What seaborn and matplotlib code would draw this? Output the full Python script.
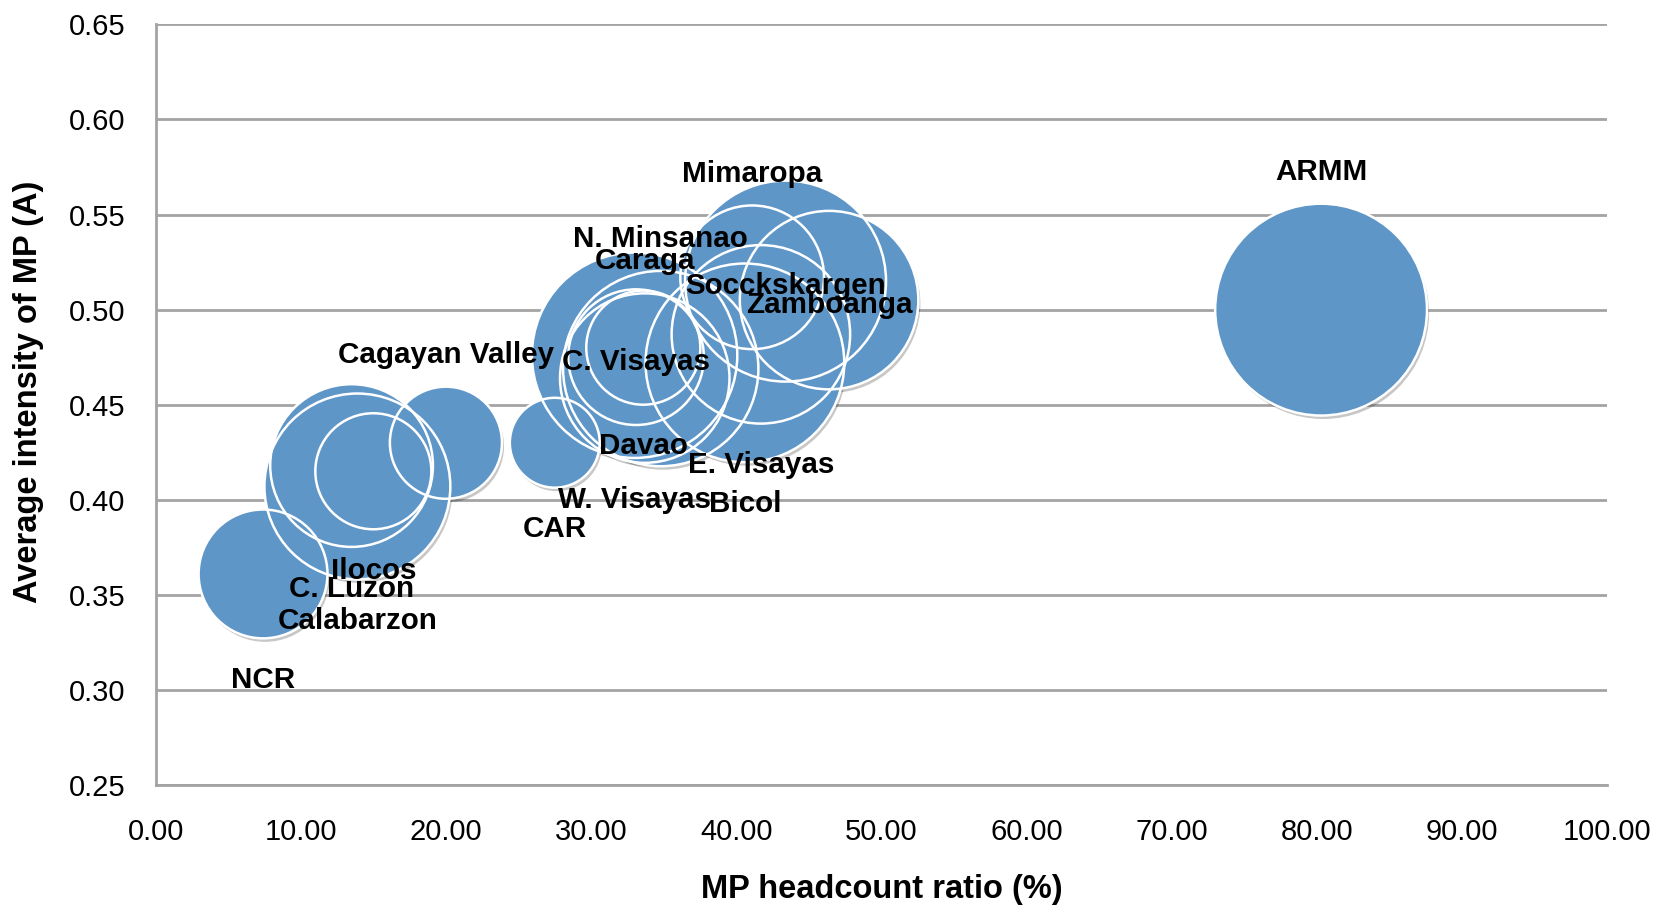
import matplotlib
matplotlib.use("Agg")
import matplotlib.pyplot as plt
import matplotlib.patheffects as pe
import numpy as np
import pandas as pd
import seaborn as sns

# ---- data ----
regions = ["NCR", "CAR", "Ilocos", "Cagayan Valley", "C. Luzon", "Calabarzon",
           "Mimaropa", "Bicol", "W. Visayas", "C. Visayas", "E. Visayas",
           "Zamboanga", "N. Minsanao", "Davao", "Socckskargen", "Caraga", "ARMM"]
headcount = [7.4, 27.5, 15.0, 20.0, 13.5, 13.9,
             41.1, 40.6, 33.0, 33.1, 41.7,
             46.4, 34.8, 33.6, 43.4, 33.7, 80.3]
intensity = [0.361, 0.430, 0.415, 0.430, 0.418, 0.407,
             0.517, 0.472, 0.476, 0.475, 0.487,
             0.505, 0.469, 0.480, 0.515, 0.464, 0.500]
bubble = [37, 18, 30, 28, 59, 77,
          46, 88, 94, 41, 71,
          71, 85, 29, 90, 64, 100]

df = pd.DataFrame({"region": regions, "H": headcount, "A": intensity, "size": bubble})

# label placement (style only)
label_pos = {"NCR": "below", "CAR": "below", "Ilocos": "below", "Cagayan Valley": "above",
             "C. Luzon": "below", "Calabarzon": "below", "Mimaropa": "above",
             "Bicol": "below", "W. Visayas": "below", "C. Visayas": "center",
             "E. Visayas": "below", "Zamboanga": "center", "N. Minsanao": "above",
             "Davao": "below", "Socckskargen": "center", "Caraga": "above", "ARMM": "above"}

sns.set_style("white")
plt.rcParams['font.family'] = ['Liberation Sans', 'DejaVu Sans']

fig = plt.figure(figsize=(16.61, 9.07), dpi=100)
ax = fig.add_axes([0.0937, 0.1345, 0.8738, 0.8386])

s_max = 23265  # marker area (pt^2) for the largest bubble value
# filled bubbles with a soft drop shadow
sns.scatterplot(data=df, x="H", y="A", size="size", sizes=(0, s_max), size_norm=(0, 100),
                color="#5f96c8", edgecolor="none", linewidth=0, alpha=1,
                legend=False, ax=ax, zorder=3,
                path_effects=[pe.SimplePatchShadow(offset=(1.5, -2.5), shadow_rgbFace="black",
                                                   alpha=0.22), pe.Normal()])
# white outlines on top so every circle stays visible
sns.scatterplot(data=df, x="H", y="A", size="size", sizes=(0, s_max), size_norm=(0, 100),
                facecolor="none", edgecolor="white", linewidth=1.8,
                legend=False, ax=ax, zorder=4)

gap = 26.5
for r, h, a, sz in zip(regions, headcount, intensity, bubble):
    rad = np.sqrt(sz / 100 * s_max) / 2
    pos = label_pos[r]
    dy = {"above": rad + gap, "below": -(rad + gap), "center": 0}[pos] - 3.5
    ax.annotate(r, (h, a), xytext=(0, dy), textcoords="offset points",
                ha="center", va="center", fontsize=21.3, fontweight="bold",
                color="black", zorder=10)

ax.set_xlim(0, 100)
ax.set_ylim(0.25, 0.65)
ax.set_xticks(np.arange(0, 101, 10))
ax.set_yticks(np.arange(0.25, 0.651, 0.05))
ax.set_xticklabels([f"{v:.2f}" for v in np.arange(0, 101, 10)])
ax.set_yticklabels([f"{v:.2f}" for v in np.arange(0.25, 0.651, 0.05)])

grid_c = "#a3a3a3"
ax.yaxis.grid(True, color=grid_c, linewidth=2, zorder=0)
ax.xaxis.grid(False)
ax.set_axisbelow(True)
for side in ["top", "right"]:
    ax.spines[side].set_visible(False)
for side in ["left", "bottom"]:
    ax.spines[side].set_color(grid_c)
    ax.spines[side].set_linewidth(2)
ax.tick_params(axis="both", direction="out", length=7, width=1.5, color=grid_c,
               labelsize=21, labelcolor="black")
ax.tick_params(axis="x", pad=17)
ax.tick_params(axis="y", pad=15)
ax.set_facecolor("white")

ax.set_xlabel("MP headcount ratio (%)", fontsize=23.5, fontweight="bold", va="center", color="black")
ax.set_ylabel("Average intensity of MP (A)", fontsize=23.5, fontweight="bold", va="center", color="black")
ax.xaxis.set_label_coords(0.5, -0.138)
ax.yaxis.set_label_coords(-0.0876, 0.517)

fig.savefig("out.png", dpi=100, facecolor="white")
